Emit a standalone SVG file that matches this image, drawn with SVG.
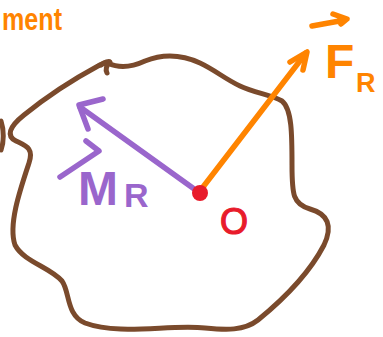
<svg xmlns="http://www.w3.org/2000/svg" width="383" height="337" viewBox="0 0 383 337">
<style>
.stroke{fill:none;stroke-linecap:round;stroke-linejoin:round}
.brown{stroke:#7A4A2C;stroke-width:5}
.orange{stroke:#FF8400;stroke-width:5.5}
.purple{stroke:#9A66CC;stroke-width:5.5}
.lbl{font-family:"Liberation Sans",Arial,sans-serif;font-weight:bold}
</style>
<rect width="383" height="337" fill="#fff"/>
<g id="title">
<text class="lbl" x="2" y="30" font-size="31" textLength="60" lengthAdjust="spacingAndGlyphs" fill="#FF8400">ment</text>
</g>
<g id="body">
<path class="stroke brown" d="M 108,63 C 120,69 132,67 145,61 C 160,55 178,53 200,63 C 215,70 225,79 240,86 C 255,93 272,95 282,101 C 292,109 292,135 292,165 C 292,195 293,204 310,209 C 328,214 333,226 324,245 C 310,272 285,298 258,320 C 244,331 226,330 205,328 C 170,324 120,336 85,323 C 66,315 70,292 62,281 C 50,267 24,262 15,245 C 8,225 20,190 29,163 C 34,148 26,146 16,141 C 6,136 9,127 24,115 C 45,98 72,80 98,66 C 103,63 106,62 108,63"/>
<path class="stroke brown" d="M 101,65 C 105,62 109,61 110,62 C 107,65 105,69 107,73"/>
<path class="stroke brown" d="M 1,121 C 4,130 4,142 1,150"/>
</g>
<g id="connectors">
<g id="force-arrow">
<path class="stroke orange" d="M 203,187 L 306,53"/>
<path class="stroke orange" d="M 290,62 L 307,52 L 303,70"/>
</g>
<g id="moment-arrow">
<path class="stroke purple" d="M 197,191 L 80,107"/>
<path class="stroke purple" d="M 103,99 L 79,105 L 88,129"/>
</g>
</g>
<g id="point-O">
<circle cx="200" cy="193" r="8" fill="#E81B2B"/>
<text x="220" y="234" font-size="36" style="font-family:'Liberation Sans',Arial,sans-serif;font-weight:normal" fill="#E81B2B" stroke="#E81B2B" stroke-width="1.2">O</text>
</g>
<g id="label-FR">
<path class="stroke orange" d="M 312,26 L 345,20 M 333,14 L 347,19 L 341,24" stroke-width="5"/>
<text class="lbl" x="325" y="78" font-size="48" fill="#FF8400">F</text>
<text class="lbl" x="356" y="92" font-size="27" fill="#FF8400">R</text>
</g>
<g id="label-MR">
<path class="stroke purple" d="M 60,177 L 99,151 L 86,141" stroke-width="5"/>
<text class="lbl" x="78" y="205" font-size="48" fill="#9A66CC">M</text>
<text class="lbl" x="124" y="207" font-size="34" fill="#9A66CC">R</text>
</g>
</svg>
